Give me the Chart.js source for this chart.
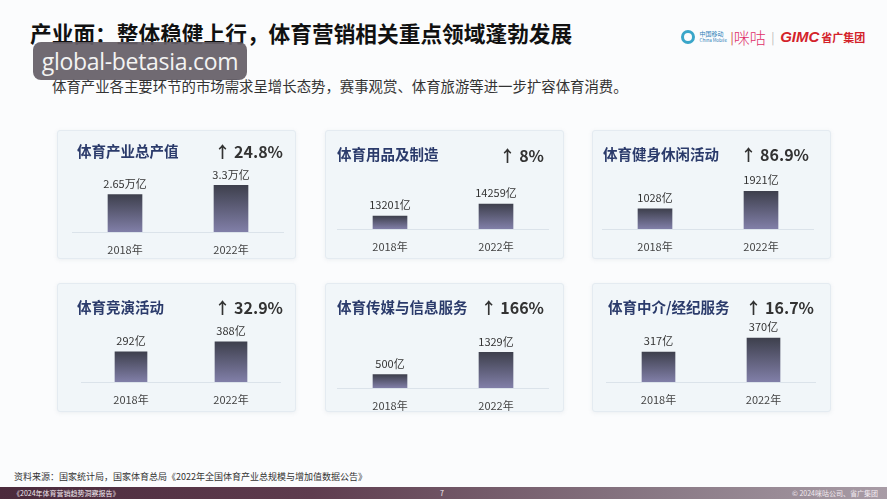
<!DOCTYPE html>
<html lang="zh-CN">
<head>
<meta charset="utf-8">
<title>产业面：整体稳健上行</title>
<script src="https://cdn.jsdelivr.net/npm/chart.js@4.4.1/dist/chart.umd.min.js"></script>
<style>
  html, body { margin: 0; padding: 0; }
  body {
    width: 887px; height: 499px; overflow: hidden; position: relative;
    background: #fbfcfd;
    font-family: "Noto Sans CJK SC", "Noto Sans", sans-serif;
  }
  .abs { position: absolute; white-space: nowrap; }
  .title { left: 30px; top: 19px; font-size: 21.7px; font-weight: 700; color: #111; line-height: 28px; }
  .subtitle { left: 52px; top: 76px; font-size: 14.4px; color: #333; line-height: 20px; }
  .watermark {
    left: 33px; top: 42px; width: 214px; height: 38px; border-radius: 8px;
    background: rgba(100, 93, 102, 0.92); color: #f3f3f3;
    font-family: "Open Sans", "Noto Sans", sans-serif; font-size: 23px; line-height: 38px;
    text-align: center; letter-spacing: -0.3px;
  }
  .card {
    width: 237px; height: 127px; border-radius: 3px;
    background: #f1f6f9; border: 1px solid #e4ebf1;
    box-shadow: 0 1px 4px rgba(120, 140, 160, 0.12);
  }
  .card-title { font-size: 14.5px; font-weight: 700; color: #2b3b6b; line-height: 20px; z-index: 2; }
  .growth { font-size: 16px; font-weight: 700; color: #333; line-height: 20px; z-index: 2; text-align: right; }
  canvas.panel { position: absolute; z-index: 1; }
  .source { left: 14px; top: 471px; font-size: 9px; color: #333; line-height: 12px; }
  .footer {
    left: 0; top: 487px; width: 887px; height: 12px;
    background: linear-gradient(90deg, #4b2a3c 0%, #5e3c4e 35%, #8a7a86 75%, #a89ca6 100%);
    color: #f2eaf0; font-size: 7px; line-height: 12px;
  }
  .logo { top: 24px; left: 681px; height: 20px; line-height: 20px; }
</style>
</head>
<body>

<div class="abs title">产业面：整体稳健上行，体育营销相关重点领域蓬勃发展</div>
<div class="abs subtitle">体育产业各主要环节的市场需求呈增长态势，赛事观赏、体育旅游等进一步扩容体育消费。</div>

<div class="abs logo">
  <span style="display:inline-block;width:14px;height:14px;border-radius:50%;border:3px solid #3aa6c9;box-sizing:border-box;vertical-align:middle;"></span>
  <span style="display:inline-block;vertical-align:middle;line-height:6px;font-size:6px;color:#2e7fb8;margin-left:1px;">中国移动<br><span style="font-size:4.5px;">China Mobile</span></span>
  <span style="color:#c33;font-size:12px;vertical-align:middle;">|</span><span style="color:#e0306a;font-size:16px;font-weight:300;vertical-align:middle;">咪咕</span>
  <span style="color:#bbb;font-size:12px;vertical-align:middle;margin:0 2px;">|</span>
  <span style="color:#d3222a;font-size:15px;font-weight:900;font-style:italic;font-family:'Liberation Sans',sans-serif;vertical-align:middle;">GIMC</span><span style="color:#d3222a;font-size:11px;font-weight:700;vertical-align:middle;margin-left:2px;">省广集团</span>
</div>

<div id="panels"></div>

<div class="abs watermark">global-betasia.com</div>

<div class="abs source">资料来源：国家统计局，国家体育总局《2022年全国体育产业总规模与增加值数据公告》</div>
<div class="abs footer">
  <span style="position:absolute;left:13px;">《2024年体育营销趋势洞察报告》</span>
  <span style="position:absolute;left:440px;">7</span>
  <span style="position:absolute;right:9px;">© 2024咪咕公司、省广集团</span>
</div>

<script>
// Data
const categories = ['2018年', '2022年'];
const panelTitles = ['体育产业总产值', '体育用品及制造', '体育健身休闲活动', '体育竞演活动', '体育传媒与信息服务', '体育中介/经纪服务'];
const growthLabels = ['24.8%', '8%', '86.9%', '32.9%', '166%', '16.7%'];
const values2018 = [2.65, 13201, 1028, 292, 500, 317];
const values2022 = [3.3, 14259, 1921, 388, 1329, 370];
const valueUnits = ['万亿', '亿', '亿', '亿', '亿', '亿'];
// value axis range per panel (the slide's bars are not drawn from zero everywhere)
const axisMin = [0, 12050, 0, 0, 0, 203];
const axisMax = [4.25, 17350, 3050, 580, 2240, 431];

// Layout: card [left, top], plot [left, baseline, width], title/growth anchors
const cardBoxes = [[57, 130], [325, 130], [592, 130], [57, 283], [325, 283], [592, 283]];
const plotBoxes = [[72, 232, 212], [337, 229, 212], [602, 229, 212], [81, 382, 200], [337, 388, 212], [606, 382, 210]];
const barWidths = [34, 34, 34, 32, 34, 33];
const titleAnchors = [[77, 151], [337, 154], [603, 154], [77, 307], [337, 307], [608, 307]];
const growthAnchors = [[283, 151], [544, 155], [809, 154], [283, 307], [544, 307], [814, 307]];

const FONT = '"Noto Sans CJK SC", "Noto Sans", sans-serif';
const PLOT_H = 60, PAD_TOP = 20, AXIS_H = 25;

// value labels above each bar
const valueLabelPlugin = {
    id: 'valueLabels',
    afterDatasetsDraw(chart) {
        const ctx = chart.ctx;
        const unit = chart.options.plugins.valueLabels.unit;
        const meta = chart.getDatasetMeta(0);
        ctx.save();
        ctx.font = '11px ' + FONT;
        ctx.fillStyle = '#333';
        ctx.textAlign = 'center';
        ctx.textBaseline = 'middle';
        meta.data.forEach((bar, i) => {
            ctx.fillText(chart.data.datasets[0].data[i] + unit, bar.x, bar.y - 11);
        });
        ctx.restore();
    }
};

function barGradient(context) {
    const chart = context.chart;
    const area = chart.chartArea;
    if (!area || context.type !== 'data') return '#4a4b5c';
    const top = chart.scales.y.getPixelForValue(context.raw);
    const g = chart.ctx.createLinearGradient(0, top, 0, area.bottom);
    g.addColorStop(0, '#3e404d');
    g.addColorStop(1, '#817fa8');
    return g;
}

document.addEventListener('DOMContentLoaded', function() {
    const host = document.getElementById('panels');

    panelTitles.forEach((name, i) => {
        const card = document.createElement('div');
        card.className = 'abs card';
        card.style.left = cardBoxes[i][0] + 'px';
        card.style.top = cardBoxes[i][1] + 'px';
        host.appendChild(card);

        const title = document.createElement('div');
        title.className = 'abs card-title';
        title.textContent = name;
        title.style.left = titleAnchors[i][0] + 'px';
        title.style.top = (titleAnchors[i][1] - 10) + 'px';
        host.appendChild(title);

        const growth = document.createElement('div');
        growth.className = 'abs growth';
        growth.textContent = '↑ ' + growthLabels[i];
        growth.style.right = (887 - growthAnchors[i][0]) + 'px';
        growth.style.top = (growthAnchors[i][1] - 10) + 'px';
        host.appendChild(growth);

        const [px, base, pw] = plotBoxes[i];
        const canvas = document.createElement('canvas');
        canvas.className = 'panel';
        canvas.width = pw;
        canvas.height = PAD_TOP + PLOT_H + AXIS_H;
        canvas.style.left = px + 'px';
        canvas.style.top = (base - PLOT_H - PAD_TOP) + 'px';
        host.appendChild(canvas);

        new Chart(canvas.getContext('2d'), {
            type: 'bar',
            data: {
                labels: categories,
                datasets: [{
                    data: [values2018[i], values2022[i]],
                    backgroundColor: barGradient,
                    barThickness: barWidths[i],
                    borderWidth: 0
                }]
            },
            options: {
                responsive: false,
                animation: false,
                devicePixelRatio: 1,
                layout: { padding: { top: PAD_TOP, left: 0, right: 0, bottom: 0 } },
                scales: {
                    x: {
                        grid: { display: false, drawTicks: false },
                        border: { display: true, color: '#dbe3ea', width: 1 },
                        ticks: { padding: 11, color: '#444', font: { size: 11, family: FONT } },
                        afterFit: axis => { axis.height = AXIS_H; }
                    },
                    y: { display: false, min: axisMin[i], max: axisMax[i] }
                },
                plugins: {
                    legend: { display: false },
                    tooltip: { enabled: false },
                    valueLabels: { unit: valueUnits[i] }
                }
            },
            plugins: [valueLabelPlugin]
        });
    });
});
</script>
</body>
</html>
